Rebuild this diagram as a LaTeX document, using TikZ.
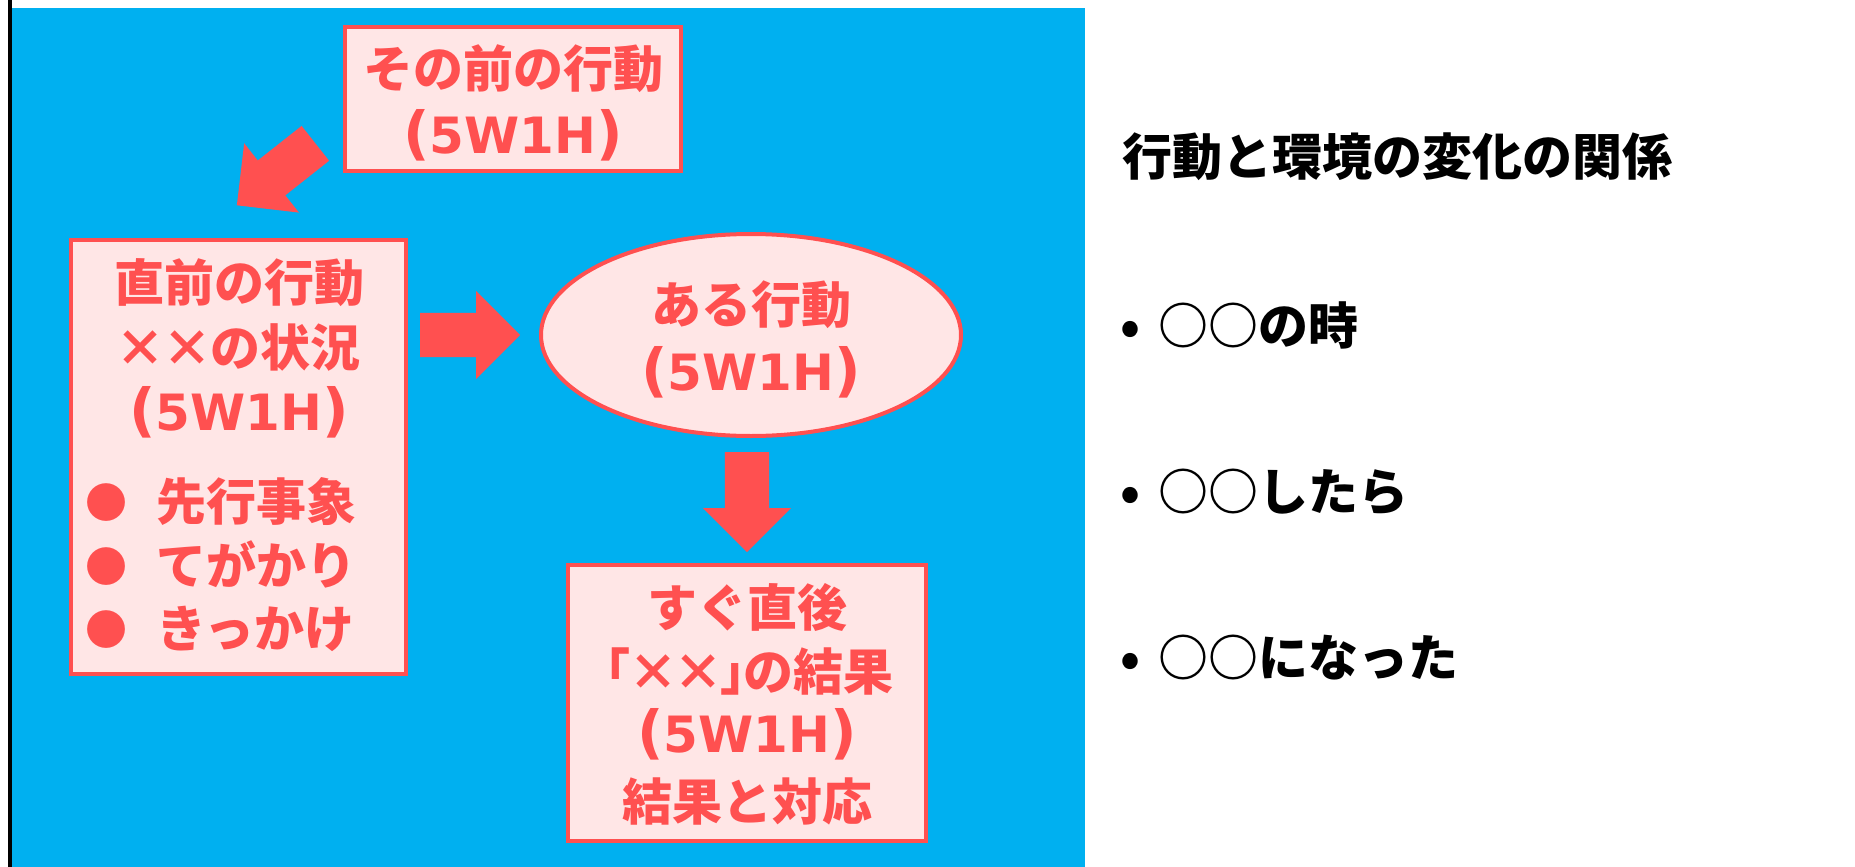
\documentclass[tikz,border=0pt]{standalone}
\usepackage{fontspec}
\newfontfamily\jp{Noto Sans CJK JP}
\newfontfamily\lat{DejaVu Sans}
\usetikzlibrary{shapes.arrows,shapes.geometric}
\definecolor{sky}{HTML}{00B0F0}
\definecolor{redc}{HTML}{FF5050}
\definecolor{pinkc}{HTML}{FFE6E6}
\newcommand{\jpsz}[1]{\fontsize{#1}{#1}\selectfont}
\newcommand{\xx}{\makebox[0.93em]{×}}
\newcommand{\xxn}{\makebox[0.9em]{×}}
\newcommand{\lbr}{\makebox[0.6em][r]{「}}
\newcommand{\rbr}{\makebox[0.45em][l]{」}}
\newcommand{\fivew}{{\lat\bfseries{\jpsz{58}(}5W1H{\jpsz{58})}}}
\begin{document}
\begin{tikzpicture}[x=1pt,y=-1pt,
  box/.style={draw=redc,line width=4pt,fill=pinkc,inner sep=0pt},
  rtxt/.style={text=redc,inner sep=0pt,anchor=base,font=\jp\bfseries\jpsz{50}},
  ltxt/.style={rtxt,anchor=base west},
  btxt/.style={text=black,inner sep=0pt,anchor=base west,font=\jp\bfseries\jpsz{50}},
  dot/.style={text=redc,inner sep=0pt,anchor=base,font=\jp\jpsz{42}},
  blockarrow/.style={single arrow,fill=redc,draw=none,inner xsep=0pt,inner ysep=22pt,
    minimum height=100pt,minimum width=88pt,single arrow head extend=22pt,
    single arrow tip angle=90,anchor=tail}]
\useasboundingbox (0,0) rectangle (1855,867);
\fill[white] (0,0) rectangle (1855,867);
\fill[sky] (12,8) rectangle (1085,867);
\fill[black] (8,0) rectangle (11.5,867);

% boxes
\node[box,minimum width=336pt,minimum height=144pt] (top) at (513,99) {};
\node[box,minimum width=335pt,minimum height=434pt] (left) at (238.5,457) {};
\node[box,ellipse,minimum width=420pt,minimum height=202pt] (act) at (751,335) {};
\node[box,minimum width=358pt,minimum height=276pt] (res) at (747,703) {};

% arrows
\node[blockarrow,rotate=218.3] (aTop) at (315.5,143.2) {};
\node[blockarrow] (aRight) at (420,335) {};
\node[blockarrow,rotate=-90] (aDown) at (747,452) {};

% top box text
\node[rtxt] (t1) at (513,87) {その前の行動};
\node[rtxt] (t2) at (513,153) {\fivew};

% left box text
\node[rtxt] (l1) at (239,301) {直前の行動};
\node[rtxt] (l2) at (239,366) {\xx\xx の状況};
\node[rtxt] (l3) at (239,430) {\fivew};
\node[dot] (d1) at (106,518) {●};
\node[dot] (d2) at (106,582) {●};
\node[dot] (d3) at (106,645) {●};
\node[ltxt] (l4) at (156,520) {先行事象};
\node[ltxt] (l5) at (156,584) {てがかり};
\node[ltxt] (l6) at (156,647) {きっかけ};

% ellipse text
\node[rtxt] (e1) at (751,323) {ある行動};
\node[rtxt] (e2) at (751,390) {\fivew};

% result box text
\node[rtxt] (r1) at (747,626) {すぐ直後};
\node[rtxt] (r2) at (747,690) {\lbr\xxn\xxn\rbr の結果};
\node[rtxt] (r3) at (747,752) {\fivew};
\node[rtxt] (r4) at (747,820) {結果と対応};

% right side
\node[btxt] (title) at (1122,175) {行動と環境の変化の関係};
\node[btxt,anchor=base] (b1) at (1130,344) {•};
\node[btxt,anchor=base] (b2) at (1130,510) {•};
\node[btxt,anchor=base] (b3) at (1130,676) {•};
\node[btxt] (s1) at (1158,344) {○○の時};
\node[btxt] (s2) at (1158,510) {○○したら};
\node[btxt] (s3) at (1158,676) {○○になった};
\end{tikzpicture}
\end{document}
